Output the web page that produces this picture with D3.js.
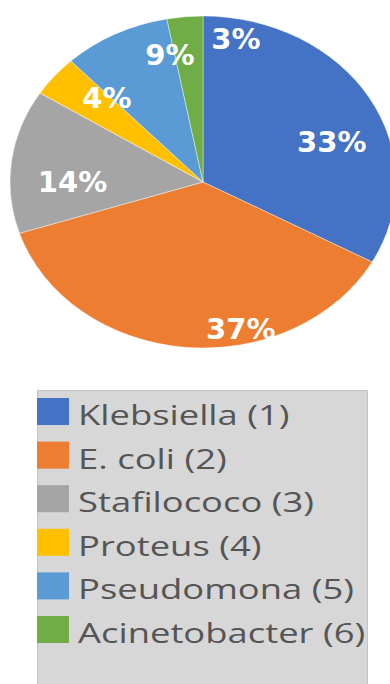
<!DOCTYPE html>
<html>
<head>
<meta charset="utf-8">
<script src="https://cdn.jsdelivr.net/npm/d3@7/dist/d3.min.js"></script>
<style>
  html, body { margin: 0; padding: 0; background: #ffffff; }
  svg { display: block; }
</style>
</head>
<body>
<script>
// Bacterial isolates, share of total (%)
const categories = ["Klebsiella (1)", "E. coli (2)", "Stafilococo (3)", "Proteus (4)", "Pseudomona (5)", "Acinetobacter (6)"];
const values = [33, 37, 14, 4, 9, 3];
const colors = ["#4472C4", "#ED7D31", "#A5A5A5", "#FFC000", "#5B9BD5", "#70AD47"];

const W = 390, H = 684;
const cx = 203, cy = 182;      // pie centre
const rx = 193, ry = 166;      // the pie is drawn as an ellipse

// Label placement inside each slice: angle (deg, clockwise from 12 o'clock) and radius fraction
const labelPlacement = [
  { angle: 70, r: 0.71 },
  { angle: 167.5, r: 0.905 },
  { angle: 270, r: 0.676 },
  { angle: 315.5, r: 0.71 },
  { angle: 347.4, r: 0.784 },
  { angle: 11.2, r: 0.878 }
];

const svg = d3.select("body").append("svg")
  .attr("width", W).attr("height", H);

const pie = d3.pie().sort(null).value(d => d)(values);
const arc = d3.arc().innerRadius(0).outerRadius(ry);

const pieG = svg.append("g")
  .attr("transform", `translate(${cx},${cy}) scale(${rx / ry},1)`);

pieG.selectAll("path")
  .data(pie)
  .join("path")
  .attr("d", arc)
  .attr("fill", (d, i) => colors[i])
  .attr("stroke", "#ffffff")
  .attr("stroke-opacity", 0.45)
  .attr("stroke-width", 0.9)
  .attr("vector-effect", "non-scaling-stroke");

// Percentage labels
svg.append("g").selectAll("text")
  .data(pie)
  .join("text")
  .attr("x", (d, i) => cx + labelPlacement[i].r * rx * Math.sin(labelPlacement[i].angle * Math.PI / 180))
  .attr("y", (d, i) => cy - labelPlacement[i].r * ry * Math.cos(labelPlacement[i].angle * Math.PI / 180))
  .attr("dy", "0.36em")
  .attr("text-anchor", "middle")
  .attr("font-family", "'DejaVu Sans', Verdana, sans-serif")
  .attr("font-weight", "bold")
  .attr("font-size", 29)
  .attr("fill", "#ffffff")
  .text(d => d.data + "%");

// Legend
const legend = svg.append("g");
legend.append("rect")
  .attr("x", 37.5).attr("y", 390.5)
  .attr("width", 330).attr("height", 310)
  .attr("fill", "#d7d7d7")
  .attr("stroke", "#c4c4c4")
  .attr("stroke-width", 1);

const rowY = d3.scalePoint().domain(categories).range([425, 643]);

const rows = legend.selectAll("g.row")
  .data(categories)
  .join("g")
  .attr("class", "row");

rows.append("rect")
  .attr("x", 37)
  .attr("y", d => rowY(d) - 27)
  .attr("width", 32)
  .attr("height", 27)
  .attr("fill", (d, i) => colors[i]);

rows.append("text")
  .attr("transform", d => `translate(78,${rowY(d)}) scale(1.30,1)`)
  .attr("font-family", "'Open Sans', 'Noto Sans', sans-serif")
  .attr("font-size", 28)
  .attr("fill", "#555555")
  .text(d => d);
</script>
</body>
</html>
